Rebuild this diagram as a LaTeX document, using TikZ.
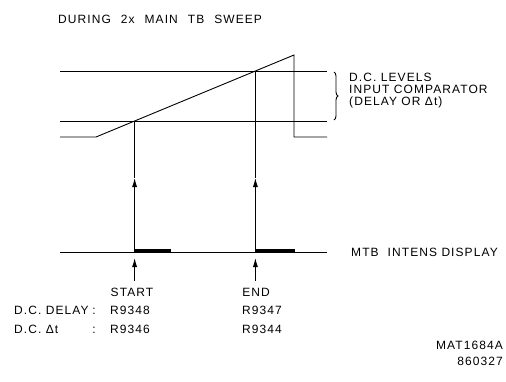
\documentclass[tikz,border=0pt]{standalone}
\usepackage{fontspec}
\setmainfont{Liberation Sans}[LetterSpace=9]
\usetikzlibrary{arrows.meta,decorations.pathreplacing}
\begin{document}
\begin{tikzpicture}[x=1pt,y=-1pt,
  wire/.style={line width=0.9pt},
  bar/.style={line width=3pt},
  arr/.style={-{Latex[length=9pt,width=5pt]}, line width=0.9pt},
  lbl/.style={inner sep=0pt, font=\fontsize{12}{12}\selectfont}]
\useasboundingbox (0,0) rectangle (506,381);
\fill[white] (0,0) rectangle (506,381);
% level lines
\coordinate (ul0) at (60,71);  \coordinate (ul1) at (327,71);
\coordinate (ll0) at (60,121); \coordinate (ll1) at (327,121);
% sweep
\coordinate (r0) at (60,137); \coordinate (r1) at (96,137);
\coordinate (pk) at (294,55); \coordinate (pb) at (294,137); \coordinate (r2) at (327,137);
% crossing points
\coordinate (s) at (134.6,121); \coordinate (e) at (255.4,71);
\coordinate (sa) at (134.6,178); \coordinate (ea) at (255.4,178);
\coordinate (sb) at (134.6,252); \coordinate (eb) at (255.4,252);
% MTB line
\coordinate (m0) at (60,252); \coordinate (m1) at (327,252);
\coordinate (sbar0) at (134.6,250.5); \coordinate (sbar1) at (171,250.5);
\coordinate (ebar0) at (255.4,250.5); \coordinate (ebar1) at (295,250.5);
% lower arrows
\coordinate (st) at (134.6,258); \coordinate (sl) at (134.6,281);
\coordinate (et) at (255.4,258); \coordinate (el) at (255.4,281);
% brace
\coordinate (b0) at (334,72); \coordinate (b1) at (334,120);

\draw[wire] (ul0) -- (ul1);
\draw[wire] (ll0) -- (ll1);
\draw[wire] (r0) -- (r1) -- (pk) -- (pb) -- (r2);
\draw[wire] (m0) -- (m1);
\draw[bar] (sbar0) -- (sbar1);
\draw[bar] (ebar0) -- (ebar1);
\draw[arr] (sb) -- (sa); \draw[wire] (sa) -- (s);
\draw[arr] (eb) -- (ea); \draw[wire] (ea) -- (e);
\draw[arr] (sl) -- (st);
\draw[arr] (el) -- (et);
\draw[wire, decorate, decoration={brace, amplitude=4pt}] (b0) -- (b1);

\node[lbl, anchor=west] (title) at (58,19) {DURING\hspace{10pt}2x\hspace{10pt}MAIN\hspace{10pt}TB\hspace{10pt}SWEEP};
\node[lbl, anchor=west, align=left] (lev) at (349,91) {D.C. LEVELS\\INPUT COMPARATOR\\(DELAY OR Δt)};
\node[lbl, anchor=west] (mtb) at (351,252) {MTB\hspace{9pt}INTENS DISPLAY};
\node[lbl] (start) at (132,292) {START};
\node[lbl] (end) at (256,292) {END};
\node[lbl, anchor=west] (dcd) at (14,310) {D.C. DELAY};
\node[lbl] (c1) at (94,311) {:};
\node[lbl, anchor=west] (r9348) at (110,310) {R9348};
\node[lbl, anchor=west] (r9347) at (242,310) {R9347};
\node[lbl, anchor=west] (dct) at (14,329) {D.C. Δt};
\node[lbl] (c2) at (94,330) {:};
\node[lbl, anchor=west] (r9346) at (110,329) {R9346};
\node[lbl, anchor=west] (r9344) at (242,329) {R9344};
\node[lbl, anchor=east] (mat) at (503,345) {MAT1684A};
\node[lbl] (date) at (480,361) {860327};
\end{tikzpicture}
\end{document}
